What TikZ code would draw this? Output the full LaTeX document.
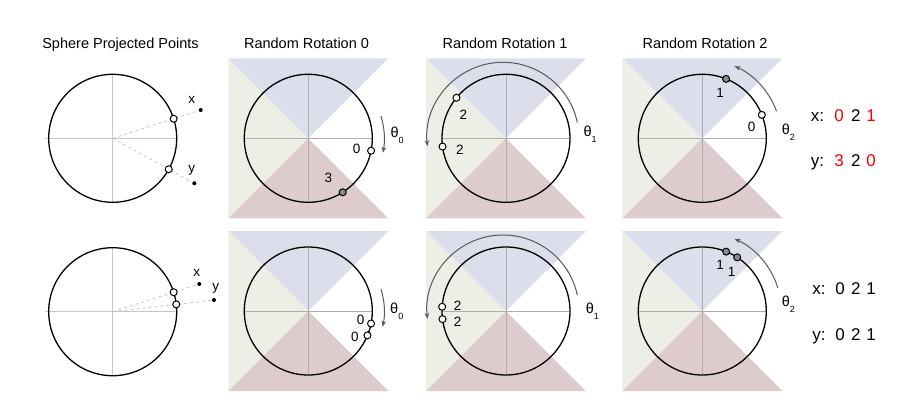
\documentclass[tikz,border=0pt]{standalone}
\usepackage{fontspec}
\setmainfont{Liberation Sans}
\usetikzlibrary{arrows.meta,calc}
\definecolor{tblue}{RGB}{220,223,235}
\definecolor{tgreen}{RGB}{237,238,229}
\definecolor{tpink}{RGB}{221,203,205}
\newcommand\thsub[1]{\raisebox{-6pt}{\fontsize{9}{9}\selectfont #1}}
\newcommand\rotbg{%
  \fill[tblue] (-80,80) -- (80,80) -- (0,0) -- cycle;
  \fill[tgreen] (-80,80) -- (-80,-80) -- (0,0) -- cycle;
  \fill[tpink] (-80,-80) -- (80,-80) -- (0,0) -- cycle;
  \draw[cross, draw=black!32] (-64,0) -- (64,0) (0,-64) -- (0,64);
  \draw[sphere] (0,0) circle (64);
}
\begin{document}
\begin{tikzpicture}[x=1pt,y=-1pt,
  sphere/.style={draw=black, line width=1.3pt},
  cross/.style={draw=black!22, line width=0.8pt},
  opt/.style={circle, draw=black, fill=white, line width=1pt, inner sep=0pt, minimum size=7pt},
  hpt/.style={circle, draw=black, fill=black!45, line width=1pt, inner sep=0pt, minimum size=7pt},
  dotpt/.style={circle, fill=black, inner sep=0pt, minimum size=4pt},
  proj/.style={draw=black!25, dashed, line width=0.7pt},
  lbl/.style={font=\fontsize{13.5}{14}\selectfont, inner sep=0pt},
  ptlbl/.style={font=\fontsize{13.5}{14}\selectfont, inner sep=0pt},
  title/.style={font=\fontsize{14.5}{15}\selectfont, inner sep=0pt},
  rot/.style={draw=black!65, line width=1pt, -{Stealth[length=6pt,width=4.5pt]}},
  theta/.style={font=\fontsize{14.5}{15}\selectfont, inner sep=0pt, anchor=base west},
  hash/.style={font=\fontsize{17}{17}\selectfont, inner sep=0pt, anchor=base},
]
\useasboundingbox (0,0) rectangle (898,413);

% titles
\node[title, anchor=base] (t0) at (120.5,48) {Sphere Projected Points};
\node[title, anchor=base] (t1) at (306.5,48) {Random Rotation 0};
\node[title, anchor=base] (t2) at (505,48) {Random Rotation 1};
\node[title, anchor=base] (t3) at (705,48) {Random Rotation 2};

% ---------- top row ----------
\begin{scope}[shift={(112.7,138.3)},y=1pt]
  \draw[cross] (-68,0) -- (64,0) (0,-64) -- (0,64);
  \draw[sphere] (0,0) circle (64);
  \coordinate (o1) at (0,0);
  \node[dotpt] (dx1) at (88,28.3) {};
  \node[dotpt] (dy1) at (81.6,-45) {};
  \draw[proj] (o1) -- (dx1);
  \draw[proj] (o1) -- (dy1);
  \node[opt] (px1) at (17.8:64) {};
  \node[opt] (py1) at (-28.9:64) {};
  \node[ptlbl] (lx1) at (79,38.3) {x};
  \node[ptlbl] (ly1) at (79,-31.7) {y};
\end{scope}

\begin{scope}[shift={(308.3,138.3)},y=1pt]
  \rotbg
  \node[opt] (a0x) at (-11.2:64) {};
  \node[hpt] (a0y) at (-57.5:64) {};
  \node[lbl] (a0lx) at (48.4,-11) {0};
  \node[lbl] (a0ly) at (20,-40) {3};
  \draw[rot] (17:76) arc[start angle=17,end angle=-11,radius=76];
  \node[theta] (a0t) at (82,1) {θ\thsub{0}};
\end{scope}

\begin{scope}[shift={(506,138.3)},y=1pt]
  \rotbg
  \node[opt] (a1x) at (187.4:64) {};
  \node[opt] (a1y) at (140.7:64) {};
  \node[lbl] (a1lx) at (-46,-11) {2};
  \node[lbl] (a1ly) at (-42.7,23.3) {2};
  \draw[rot] ($(-3,0)+(12:76)$) arc[start angle=12,end angle=186,radius=76];
  \node[theta] (a1t) at (77.3,2.3) {θ\thsub{1}};
\end{scope}

\begin{scope}[shift={(702.3,138.3)},y=1pt]
  \rotbg
  \node[hpt] (a2x) at (68.2:64) {};
  \node[opt] (a2y) at (21.5:64) {};
  \node[lbl] (a2lx) at (17.7,45) {1};
  \node[lbl] (a2ly) at (49.4,11.6) {0};
  \draw[rot] (20:79) arc[start angle=20,end angle=66,radius=79];
  \node[theta] (a2t) at (79.4,4) {θ\thsub{2}};
\end{scope}

\node[hash] (hx1) at (817.5,121.7) {x:};
\node[hash, text=red] (hx1a) at (839.2,121.7) {0};
\node[hash] (hx1b) at (855.8,121.7) {2};
\node[hash, text=red] (hx1c) at (871.2,121.7) {1};
\node[hash] (hy1) at (817.5,166.7) {y:};
\node[hash, text=red] (hy1a) at (839.2,166.7) {3};
\node[hash] (hy1b) at (855.8,166.7) {2};
\node[hash, text=red] (hy1c) at (871.2,166.7) {0};

% ---------- bottom row ----------
\begin{scope}[shift={(112.7,311.7)},y=1pt]
  \draw[cross] (-68,0) -- (64,0) (0,-64) -- (0,64);
  \draw[sphere] (0,0) circle (64);
  \coordinate (o2) at (0,0);
  \node[dotpt] (dx2) at (86.6,27.7) {};
  \node[dotpt] (dy2) at (101.3,11.7) {};
  \draw[proj] (o2) -- (dx2);
  \draw[proj] (o2) -- (dy2);
  \node[opt] (px2) at (17.7:64) {};
  \node[opt] (py2) at (6.6:64) {};
  \node[ptlbl] (lx2) at (84,38.4) {x};
  \node[ptlbl] (ly2) at (103,23.4) {y};
\end{scope}

\begin{scope}[shift={(308.3,311)},y=1pt]
  \rotbg
  \node[opt] (b0x) at (-11.3:64) {};
  \node[opt] (b0y) at (-22.4:64) {};
  \node[lbl] (b0lx) at (52.4,-9) {0};
  \node[lbl] (b0ly) at (46.7,-25.7) {0};
  \draw[rot] (16.6:76) arc[start angle=16.6,end angle=-12,radius=76];
  \node[theta] (b0t) at (81.7,-2.3) {θ\thsub{0}};
\end{scope}

\begin{scope}[shift={(506,311)},y=1pt]
  \rotbg
  \node[opt] (b1x) at (187.3:64) {};
  \node[opt] (b1y) at (176.2:64) {};
  \node[lbl] (b1lx) at (-48.3,-11) {2};
  \node[lbl] (b1ly) at (-48.3,5) {2};
  \draw[rot] ($(-3,0)+(12:76)$) arc[start angle=12,end angle=186,radius=76];
  \node[theta] (b1t) at (79.7,-2.3) {θ\thsub{1}};
\end{scope}

\begin{scope}[shift={(702.3,311)},y=1pt]
  \rotbg
  \node[hpt] (b2x) at (68.1:64) {};
  \node[hpt] (b2y) at (57:64) {};
  \node[lbl] (b2lx) at (17.7,46) {1};
  \node[lbl] (b2ly) at (29.4,39.3) {1};
  \draw[rot] (17:79) arc[start angle=17,end angle=66,radius=79];
  \node[theta] (b2t) at (79.4,5) {θ\thsub{2}};
\end{scope}

\node[hash] (hx2) at (819,294) {x:};
\node[hash] (hx2a) at (840,294) {0};
\node[hash] (hx2b) at (855.8,294) {2};
\node[hash] (hx2c) at (871.2,294) {1};
\node[hash] (hy2) at (819,340.7) {y:};
\node[hash] (hy2a) at (840,340.7) {0};
\node[hash] (hy2b) at (855.8,340.7) {2};
\node[hash] (hy2c) at (871.2,340.7) {1};
\end{tikzpicture}
\end{document}
